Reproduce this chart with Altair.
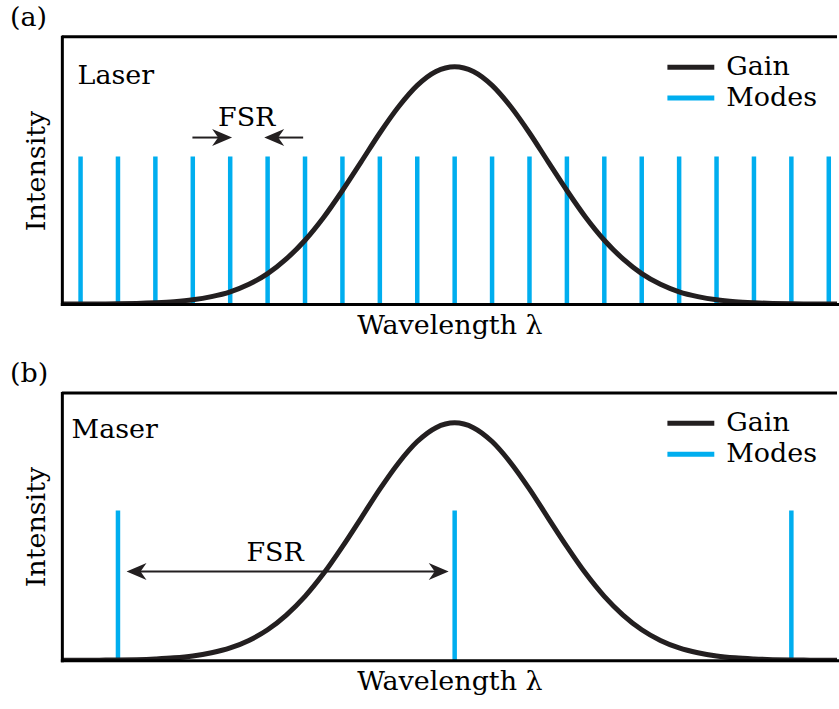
import altair as alt
import pandas as pd

FONT = "DejaVu Serif"
INK = "#231f20"
BLUE = "#00aeef"
FS = 27

# Gain profile (arbitrary wavelength units, one unit = laser mode spacing)
GAIN_X = [-10.5, -10.0, -9.5, -9.0, -8.5, -8.0, -7.5, -7.0, -6.5, -6.0, -5.5,
          -5.0, -4.5, -4.0, -3.5, -3.0, -2.5, -2.0, -1.5, -1.0, -0.5, 0.0,
          0.5, 1.0, 1.5, 2.0, 2.5, 3.0, 3.5, 4.0, 4.5, 5.0, 5.5, 6.0, 6.5,
          7.0, 7.5, 8.0, 8.5, 9.0, 9.5, 10.0, 10.5]
GAIN_Y = [0.0, 0.0, 0.0005, 0.001, 0.0024, 0.005, 0.009, 0.016, 0.028, 0.046, 0.074,
          0.114, 0.169, 0.239, 0.325, 0.425, 0.532, 0.640, 0.738, 0.818, 0.870, 0.888,
          0.870, 0.818, 0.738, 0.640, 0.532, 0.425, 0.325, 0.239, 0.169, 0.114, 0.074,
          0.046, 0.028, 0.016, 0.009, 0.005, 0.0024, 0.001, 0.0005, 0.0, 0.0]

# Cavity modes
LASER_MODES = [-10, -9, -8, -7, -6, -5, -4, -3, -2, -1, 0,
               1, 2, 3, 4, 5, 6, 7, 8, 9, 10]
LASER_MODE_HEIGHT = 0.552
MASER_MODES = [-9, 0, 9]
MASER_MODE_HEIGHT = 0.56

# FSR annotations: arrow shafts (x, x2, y) and arrow tips (x, y, angle)
LASER_SHAFTS = [(-7.01, -6.2, 0.623), (-4.05, -4.85, 0.623)]
LASER_TIPS = [(-5.95, 0.623, 0), (-5.09, 0.623, 180)]
LASER_FSR_LABEL = (-5.56, 0.668)
MASER_SHAFTS = [(-8.5, -0.45, 0.332)]
MASER_TIPS = [(-8.77, 0.332, 180), (-0.16, 0.332, 0)]
MASER_FSR_LABEL = (-4.8, 0.373)

LASER_NAME = (-10.08, 0.825, "Laser")
MASER_NAME = (-10.24, 0.832, "Maser")

X_DOMAIN = [-10.5, 10.22]
W, H = 777, 268

# barbed arrowhead with its tip at the origin, pointing right
ARROW_HEAD = "M0,0 L-2,-0.85 L-1.4,0 L-2,0.85 Z"
# long horizontal legend swatch
LEGEND_SWATCH = "M-2.35,0 H2.35"


def panel(tag, modes, mode_h, shafts, tips, fsr, name):
    xs = alt.Scale(domain=X_DOMAIN, nice=False, zero=False)
    ys = alt.Scale(domain=[0, 1], nice=False)
    x_axis = alt.Axis(title="Wavelength λ", labels=False, ticks=False, grid=False,
                      domainWidth=3, domainColor="black", domainCap="square",
                      titleFont=FONT, titleFontSize=FS, titleFontWeight="normal",
                      titleColor="black", titlePadding=8, zindex=1)
    y_axis = alt.Axis(title="Intensity", labels=False, ticks=False, grid=False,
                      domainWidth=3, domainColor="black", domainCap="square",
                      titleFont=FONT, titleFontSize=FS, titleFontWeight="normal",
                      titleColor="black", titlePadding=11, zindex=1)
    colors = alt.Scale(domain=["Gain", "Modes"], range=[INK, BLUE])
    legend = alt.Legend(orient="none", legendX=617, legendY=17, title=None,
                        symbolType=LEGEND_SWATCH, symbolSize=400, symbolStrokeWidth=5,
                        labelFont=FONT, labelFontSize=FS, labelColor="black",
                        labelOffset=22, rowPadding=3, padding=0)

    mode_df = pd.DataFrame({"x": modes, "y0": 0.0, "y1": mode_h, "series": "Modes"})
    gain_df = pd.DataFrame({"x": GAIN_X, "y": GAIN_Y, "series": "Gain"})

    modes_layer = alt.Chart(mode_df).mark_rule(strokeWidth=4.5).encode(
        x=alt.X("x:Q", scale=xs, axis=x_axis),
        y=alt.Y("y0:Q", scale=ys, axis=y_axis),
        y2="y1:Q",
        color=alt.Color("series:N", scale=colors, legend=legend),
    )
    gain_layer = alt.Chart(gain_df).mark_line(
        strokeWidth=5, interpolate="monotone", clip=True
    ).encode(
        x="x:Q", y="y:Q",
        color=alt.Color("series:N", scale=colors, legend=legend),
    )

    shaft_df = pd.DataFrame(shafts, columns=["x", "x2", "y"])
    shaft_layer = alt.Chart(shaft_df).mark_rule(color=INK, strokeWidth=2).encode(
        x="x:Q", x2="x2:Q", y="y:Q")
    tip_df = pd.DataFrame(tips, columns=["x", "y", "a"])
    tip_layer = alt.Chart(tip_df).mark_point(
        shape=ARROW_HEAD, size=400, filled=True, color=INK, opacity=1, strokeWidth=0
    ).encode(x="x:Q", y="y:Q", angle=alt.Angle("a:Q", scale=None))

    fsr_df = pd.DataFrame([{"x": fsr[0], "y": fsr[1], "t": "FSR"}])
    fsr_layer = alt.Chart(fsr_df).mark_text(
        font=FONT, fontSize=FS, color="black", align="center", baseline="alphabetic"
    ).encode(x="x:Q", y="y:Q", text="t:N")

    name_df = pd.DataFrame([{"x": name[0], "y": name[1], "t": name[2]}])
    name_layer = alt.Chart(name_df).mark_text(
        font=FONT, fontSize=FS, color="black", align="left", baseline="alphabetic"
    ).encode(x="x:Q", y="y:Q", text="t:N")

    top_layer = alt.Chart(pd.DataFrame({"k": [0]})).mark_rule(
        color="black", strokeWidth=3).encode(y=alt.value(0))

    return alt.layer(
        modes_layer, gain_layer, shaft_layer, tip_layer, fsr_layer, name_layer, top_layer
    ).properties(
        width=W, height=H,
        title=alt.TitleParams(text=tag, anchor="start", frame="group", dx=-52,
                              font=FONT, fontSize=FS, fontWeight="normal",
                              color="black", offset=3),
    )


top = panel("(a)", LASER_MODES, LASER_MODE_HEIGHT, LASER_SHAFTS, LASER_TIPS,
            LASER_FSR_LABEL, LASER_NAME)
bottom = panel("(b)", MASER_MODES, MASER_MODE_HEIGHT, MASER_SHAFTS, MASER_TIPS,
               MASER_FSR_LABEL, MASER_NAME)

chart = alt.vconcat(top, bottom, spacing=22).resolve_legend(
    color="independent"
).configure_view(stroke=None).properties(
    padding={"left": 10, "top": 3, "right": 0, "bottom": 5},
    background="white",
)

chart.save("out.html", embed_options={"renderer": "svg", "actions": False})
